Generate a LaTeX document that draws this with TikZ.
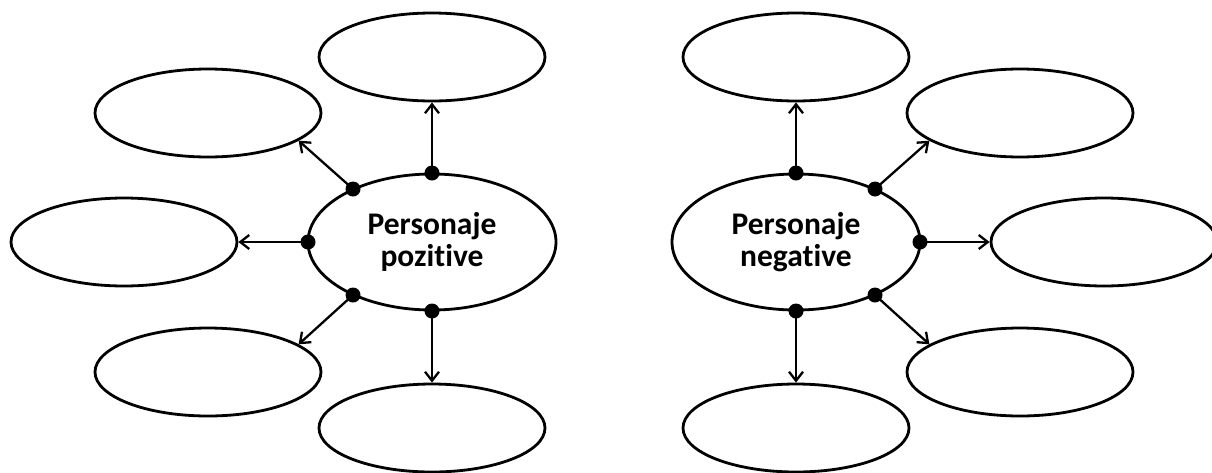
\documentclass[tikz,border=0pt]{standalone}
\usepackage{fontspec}
\setmainfont{Carlito}[Ligatures={NoCommon,NoDiscretionary,NoContextual}]
\usetikzlibrary{arrows.meta,shapes.geometric}
\tikzset{
  sat/.style={draw, ellipse, line width=2.8pt, minimum width=226pt, minimum height=88pt, inner sep=0pt},
  hub/.style={draw, ellipse, line width=2.8pt, minimum width=248pt, minimum height=136pt, inner sep=0pt,
    align=center, font=\bfseries\fontsize{31.5}{32.5}\selectfont},
  dotn/.style={circle, fill=black, minimum size=15pt, inner sep=0pt},
  link/.style={line width=2.3pt, -{Straight Barb[length=9pt,width=14pt,line width=2.3pt]}}
}
\begin{document}
\begin{tikzpicture}[x=1pt,y=-1pt]
\useasboundingbox (0,0) rectangle (1212,472);
% left group
\node[hub] (P) at (432,242) {Personaje\\pozitive};
\node[sat] (Pt) at (432,57) {};
\node[sat] (Pul) at (208,113) {};
\node[sat] (Pl) at (124,242) {};
\node[sat] (Pll) at (208,372) {};
\node[sat] (Pb) at (432,428) {};
\node[dotn] (dPt) at (432,173) {};
\node[dotn] (dPul) at (353,189) {};
\node[dotn] (dPl) at (308,242) {};
\node[dotn] (dPll) at (353,295) {};
\node[dotn] (dPb) at (432,311) {};
\draw[link] (dPt.center) -- (Pt.south);
\draw[link] (dPul.center) -- (Pul.-17);
\draw[link] (dPl.center) -- (Pl.east);
\draw[link] (dPll.center) -- (Pll.17);
\draw[link] (dPb.center) -- (Pb.north);
% right group
\node[hub] (N) at (796,242) {Personaje\\negative};
\node[sat] (Nt) at (796,57) {};
\node[sat] (Nur) at (1020,113) {};
\node[sat] (Nr) at (1104,242) {};
\node[sat] (Nlr) at (1020,372) {};
\node[sat] (Nb) at (796,428) {};
\node[dotn] (dNt) at (796,173) {};
\node[dotn] (dNur) at (875,189) {};
\node[dotn] (dNr) at (920,242) {};
\node[dotn] (dNlr) at (875,295) {};
\node[dotn] (dNb) at (796,311) {};
\draw[link] (dNt.center) -- (Nt.south);
\draw[link] (dNur.center) -- (Nur.-163);
\draw[link] (dNr.center) -- (Nr.west);
\draw[link] (dNlr.center) -- (Nlr.163);
\draw[link] (dNb.center) -- (Nb.north);
\end{tikzpicture}
\end{document}
